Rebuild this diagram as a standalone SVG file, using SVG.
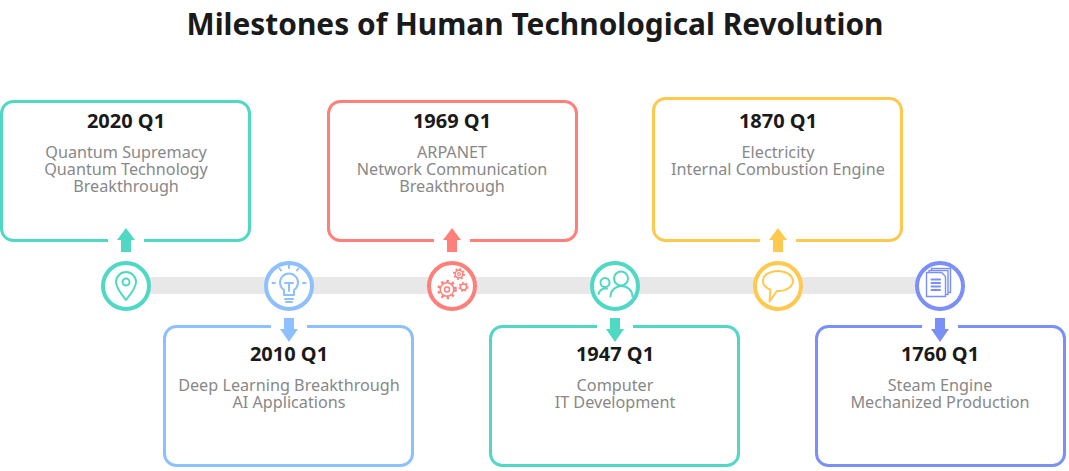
<svg xmlns="http://www.w3.org/2000/svg" width="1069" height="471" viewBox="0 0 1069 471">
<style>
.title{font-family:"Noto Sans","Open Sans","Liberation Sans",sans-serif;font-weight:700;font-size:29.5px;fill:#1a1a1a;text-anchor:middle}
.year{font-family:"Noto Sans","Open Sans","Liberation Sans",sans-serif;font-weight:700;font-size:20px;fill:#1a1a1a;text-anchor:middle}
.desc{font-family:"Noto Sans","Open Sans","Liberation Sans",sans-serif;font-size:16.2px;fill:#888;text-anchor:middle}
.box{fill:#fff;stroke-width:3}
.ring{fill:#fff;stroke-width:4}
.ic{fill:none;stroke-width:2;stroke-linecap:round;stroke-linejoin:round}
.teal{stroke:#4fd8c4}.blue{stroke:#8ec0ff}.red{stroke:#ff7f7a}.yellow{stroke:#ffc84f}.indigo{stroke:#7b8ff8}
.fteal{fill:#4fd8c4}.fblue{fill:#8ec0ff}.fred{fill:#ff7f7a}.fyellow{fill:#ffc84f}.findigo{fill:#7b8ff8}
.gap{fill:#fff}
</style>
<rect width="1069" height="471" fill="#fff"/>
<text class="title" x="535" y="35" textLength="697" lengthAdjust="spacingAndGlyphs">Milestones of Human Technological Revolution</text>

<g id="connectors">
  <rect x="126" y="277" width="814" height="17" fill="#e8e8e8"/>
</g>

<g id="node-2020">
  <rect class="box teal" x="1.5" y="101.5" width="248" height="139" rx="12"/>
  <rect class="gap" x="108" y="236" width="36" height="8"/>
  <polygon class="fteal" points="126,228 135,240 131,240 131,252 121,252 121,240 117,240"/>
  <text class="year" x="126" y="127.5">2020 Q1</text>
  <text class="desc" x="126" y="158">Quantum Supremacy</text>
  <text class="desc" x="126" y="175">Quantum Technology</text>
  <text class="desc" x="126" y="192">Breakthrough</text>
  <circle class="ring teal" cx="126" cy="286" r="23"/>
  <path class="ic teal" stroke-width="2.5" d="M126,300 C122,295 116,288 116,282 A10,10 0 0 1 136,282 C136,288 130,295 126,300 Z"/>
  <circle class="ic teal" stroke-width="2.5" cx="126" cy="282" r="3.5"/>
</g>

<g id="node-2010">
  <rect class="box blue" x="164.5" y="326.5" width="248" height="139" rx="12"/>
  <rect class="gap" x="271" y="323" width="36" height="8"/>
  <polygon class="fblue" points="284,318 294,318 294,329 298,329 289,342 280,329 284,329"/>
  <text class="year" x="289" y="361">2010 Q1</text>
  <text class="desc" x="289" y="391">Deep Learning Breakthrough</text>
  <text class="desc" x="289" y="408">AI Applications</text>
  <circle class="ring blue" cx="289" cy="286" r="23"/>
  <path class="ic blue" stroke-width="1.8" d="M284,295 L284,290 A9,9 0 1 1 294,290 L294,295 Z M285,299 H293 M286,302 H292 M285,283 H293 M289,283 V291 M289,265 V268 M279.5,268.5 L281,270.5 M298.5,268.5 L297,270.5 M272.5,283 H275 M303,283 H305.5"/>
</g>

<g id="node-1969">
  <rect class="box red" x="328.5" y="101.5" width="248" height="139" rx="12"/>
  <rect class="gap" x="434" y="236" width="36" height="8"/>
  <polygon class="fred" points="452,228 461,240 457,240 457,252 447,252 447,240 443,240"/>
  <text class="year" x="452" y="127.5">1969 Q1</text>
  <text class="desc" x="452" y="158">ARPANET</text>
  <text class="desc" x="452" y="175">Network Communication</text>
  <text class="desc" x="452" y="192">Breakthrough</text>
  <circle class="ring red" cx="452" cy="286" r="23"/>
  <circle class="red" fill="none" stroke-width="1.6" cx="447" cy="289.5" r="6.8"/>
  <circle class="red" fill="none" stroke-width="2.6" stroke-dasharray="2.4 3.2" cx="447" cy="289.5" r="8.5"/>
  <circle class="red" fill="none" stroke-width="1.5" cx="447" cy="289.5" r="2.5"/>
  <circle class="red" fill="none" stroke-width="1.4" cx="459" cy="274" r="3.8"/>
  <circle class="red" fill="none" stroke-width="2" stroke-dasharray="1.8 2.1" cx="459" cy="274" r="5"/>
  <circle class="red" fill="none" stroke-width="1.2" cx="459" cy="274" r="1.4"/>
  <circle class="red" fill="none" stroke-width="1.4" cx="463.5" cy="287" r="3"/>
  <circle class="red" fill="none" stroke-width="1.8" stroke-dasharray="1.6 1.9" cx="463.5" cy="287" r="4.1"/>
</g>

<g id="node-1947">
  <rect class="box teal" x="490.5" y="326.5" width="248" height="139" rx="12"/>
  <rect class="gap" x="597" y="323" width="36" height="8"/>
  <polygon class="fteal" points="610,318 620,318 620,329 624,329 615,342 606,329 610,329"/>
  <text class="year" x="615" y="361">1947 Q1</text>
  <text class="desc" x="615" y="391">Computer</text>
  <text class="desc" x="615" y="408">IT Development</text>
  <circle class="ring teal" cx="615" cy="286" r="23"/>
  <circle class="ic teal" cx="621" cy="278.5" r="7"/>
  <path class="ic teal" d="M610.5,296.5 A11,10.5 0 0 1 632.5,296.5"/>
  <circle class="ic teal" cx="605" cy="282.5" r="4.5"/>
  <path class="ic teal" d="M598.5,294 A7.5,7 0 0 1 607,288.5"/>
</g>

<g id="node-1870">
  <rect class="box yellow" x="653.5" y="98.5" width="248" height="142" rx="12"/>
  <rect class="gap" x="760" y="236" width="36" height="8"/>
  <polygon class="fyellow" points="778,228 787,240 783,240 783,252 773,252 773,240 769,240"/>
  <text class="year" x="778" y="127.5">1870 Q1</text>
  <text class="desc" x="778" y="158">Electricity</text>
  <text class="desc" x="778" y="175">Internal Combustion Engine</text>
  <circle class="ring yellow" cx="778" cy="286" r="23"/>
  <path class="ic yellow" stroke-width="2.6" d="M777,291 A15,10 0 1 0 770.5,289.7 L769.5,301.5 Z"/>
</g>

<g id="node-1760">
  <rect class="box indigo" x="816.5" y="326.5" width="248" height="139" rx="12"/>
  <rect class="gap" x="922" y="323" width="36" height="8"/>
  <polygon class="findigo" points="935,318 945,318 945,329 949,329 940,342 931,329 935,329"/>
  <text class="year" x="940" y="361">1760 Q1</text>
  <text class="desc" x="940" y="391">Steam Engine</text>
  <text class="desc" x="940" y="408">Mechanized Production</text>
  <circle class="ring indigo" cx="940" cy="286" r="23"/>
  <rect class="indigo" fill="#fff" stroke-width="1.4" x="931.5" y="268.5" width="19" height="24"/>
  <rect class="indigo" fill="#fff" stroke-width="1.4" x="929" y="270.5" width="19" height="24"/>
  <path class="indigo" fill="#fff" stroke-width="1.4" d="M926.5,272.5 H941.5 L945.5,276.5 V296.5 H926.5 Z"/>
  <path class="ic indigo" stroke-width="1.4" d="M931.5,279.5 H940 M931.5,283 H940 M931.5,286.5 H940 M931.5,290 H940"/>
</g>
</svg>
